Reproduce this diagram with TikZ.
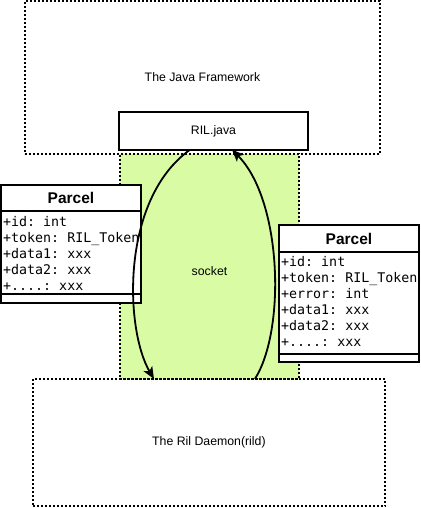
\documentclass[tikz,border=0pt]{standalone}
\usepackage{fontspec}
\setmainfont{Liberation Sans}
\newfontfamily\fieldfont{DejaVu Sans Mono}
\usetikzlibrary{arrows.meta,positioning}
\definecolor{socketgreen}{RGB}{216,251,164}

\begin{document}
\begin{tikzpicture}[x=1pt, y=-1pt,
    layerbox/.style={draw, line width=1.8pt, dash pattern=on 2pt off 2pt, inner sep=0pt, outer sep=0pt, font=\fontsize{12.3}{15}\selectfont},
    rilbox/.style={draw, fill=white, line width=1.8pt, inner sep=0pt, outer sep=0pt, font=\fontsize{12.3}{15}\selectfont},
    parcelpart/.style={draw, fill=white, line width=1.8pt, inner sep=0pt, outer sep=0pt, minimum width=140pt},
    parceltitle/.style={parcelpart, font=\fontsize{15.5}{18}\selectfont\bfseries},
    fields/.style={anchor=north west, align=left, inner sep=0pt, font=\fieldfont\frenchspacing\fontsize{13.3}{16}\selectfont},
    flow/.style={line width=1.8pt, -{Stealth[length=12pt,width=10pt,inset=3pt]}},
    tag/.style={font=\fontsize{12.3}{15}\selectfont}]
    \useasboundingbox (0,0) rectangle (420,508);
    \node[layerbox, fill=socketgreen, minimum width=179pt, minimum height=225pt] (socket) at (209.5,266.5) {};
    \node[tag] (sockettext) at ([yshift=-4.5pt]socket.center) {socket};
    \node[layerbox, minimum width=355pt, minimum height=153pt] (java) at (202.5,77.5) {The Java Framework};
    \node[layerbox, minimum width=352.3pt, minimum height=127.3pt] (daemon) at (208.9,442.6) {The Ril Daemon(rild)};
    \node[rilbox, minimum width=188.4pt, minimum height=37.4pt] (ril) at (213.5,131) {RIL.java};

    \node[parceltitle, minimum height=26pt] (lhead) at (71,198) {Parcel};
    \node[parcelpart, minimum height=83pt, below=0pt of lhead] (lbody) {};
    \node[parcelpart, minimum height=9pt, below=0pt of lbody] (lfoot) {};
    \node[fields] (lfields) at ([xshift=2pt, yshift=-5pt]lbody.north west) {+id: int\\+token: RIL\_Token\\+data1: xxx\\+data2: xxx\\+....: xxx};

    \node[parceltitle, minimum height=27pt] (rhead) at (349,238.5) {Parcel};
    \node[parcelpart, minimum height=102pt, below=0pt of rhead] (rbody) {};
    \node[parcelpart, minimum height=8pt, below=0pt of rbody] (rfoot) {};
    \node[fields] (rfields) at ([xshift=2pt, yshift=-4.5pt]rbody.north west) {+id: int\\+token: RIL\_Token\\+error: int\\+data1: xxx\\+data2: xxx\\+....: xxx};

    \draw[flow] ([xshift=-23.5pt]ril.south) .. controls (120,200) and (125,330) .. ([xshift=-54.9pt]daemon.north);
    \draw[flow] ([xshift=46pt]daemon.north) .. controls (286,330) and (282,200) .. ([xshift=18.5pt]ril.south);
\end{tikzpicture}
\end{document}
